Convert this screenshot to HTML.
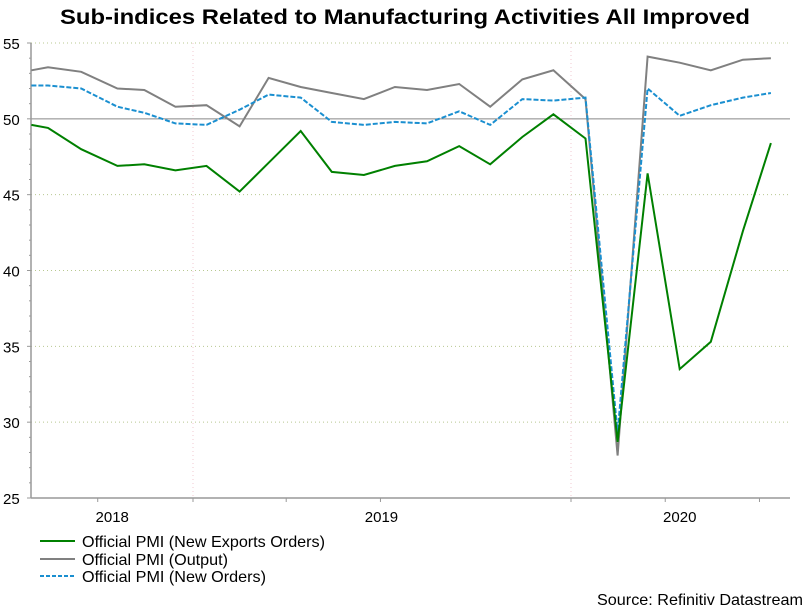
<!DOCTYPE html>
<html><head><meta charset="utf-8"><style>
body{margin:0;background:#fff;}
svg{display:block;font-family:"Liberation Sans",Arial,sans-serif;}
</style></head><body>
<svg id="chart" width="810" height="607">
<text x="405" y="24" text-anchor="middle" font-size="21" font-weight="bold" fill="#000" textLength="690" lengthAdjust="spacingAndGlyphs">Sub-indices Related to Manufacturing Activities All Improved</text>
<g id="grid"></g><g id="axes"></g><g id="series"></g>
<g>
<g><line x1="40" y1="541" x2="75" y2="541" stroke="#008000" stroke-width="2"/><text x="82" y="547" font-size="16" textLength="243" lengthAdjust="spacingAndGlyphs">Official PMI (New Exports Orders)</text></g>
<g><line x1="40" y1="559" x2="75" y2="559" stroke="#808080" stroke-width="2"/><text x="82" y="565" font-size="16" textLength="146" lengthAdjust="spacingAndGlyphs">Official PMI (Output)</text></g>
<g><line x1="40" y1="576" x2="75" y2="576" stroke="#1a8fd0" stroke-width="2" stroke-dasharray="4,2"/><text x="82" y="582" font-size="16" textLength="184" lengthAdjust="spacingAndGlyphs">Official PMI (New Orders)</text></g>
</g>
<text x="803" y="605" text-anchor="end" font-size="16" textLength="206" lengthAdjust="spacingAndGlyphs">Source: Refinitiv Datastream</text>
</svg>
<script>
const dates=["2018-07-29","2018-08-14","2018-09-15","2018-10-20","2018-11-15","2018-12-15","2019-01-14","2019-02-15","2019-03-15","2019-04-15","2019-05-15","2019-06-15","2019-07-15","2019-08-15","2019-09-15","2019-10-15","2019-11-15","2019-12-15","2020-01-15","2020-02-15","2020-03-15","2020-04-15","2020-05-15","2020-06-15","2020-07-12"];
const exportOrders=[49.6,49.4,48.0,46.9,47.0,46.6,46.9,45.2,47.1,49.2,46.5,46.3,46.9,47.2,48.2,47.0,48.8,50.3,48.7,28.7,46.4,33.5,35.3,42.6,48.4];
const output=[53.2,53.4,53.1,52.0,51.9,50.8,50.9,49.5,52.7,52.1,51.7,51.3,52.1,51.9,52.3,50.8,52.6,53.2,51.3,27.8,54.1,53.7,53.2,53.9,54.0];
const newOrders=[52.2,52.2,52.0,50.8,50.4,49.7,49.6,50.6,51.6,51.4,49.8,49.6,49.8,49.7,50.5,49.6,51.3,51.2,51.4,29.3,52.0,50.2,50.9,51.4,51.7];
const yTicks=[25,30,35,40,45,50,55];
const yearLabels=["2018","2019","2020"];
const yearLabelDates=["2018-10-15","2019-07-02","2020-04-15"];

const NS="http://www.w3.org/2000/svg";
const X0=31,X1=790,Y0=43,Y1=498;
const ref=Date.parse("2019-01-01");
function xs(d){return 193+(Date.parse(d)-ref)/86400000*378/365;}
function ys(v){return Y0+(55-v)*(Y1-Y0)/30;}
function mk(tag,attrs,parent){const e=document.createElementNS(NS,tag);for(const k in attrs)e.setAttribute(k,attrs[k]);parent.appendChild(e);return e;}
const grid=document.getElementById('grid'),axes=document.getElementById('axes'),ser=document.getElementById('series');

yTicks.forEach(v=>{
  if(v===25)return;
  const l=mk('line',{x1:X0,x2:X1,y1:ys(v),y2:ys(v),stroke:v===50?'#888':'#b8c890','stroke-width':1,'stroke-dasharray':v===50?'':'1,3'},grid);
  
  
});
["2019-01-01","2020-01-01"].forEach(d=>{
  const l=mk('line',{x1:xs(d),x2:xs(d),y1:Y0,y2:Y1,stroke:'#f0c8d0','stroke-dasharray':'1,3'},grid);
  
  
});
let a=mk('line',{x1:X0,x2:X0,y1:Y0,y2:Y1,stroke:'#999','stroke-width':1.5},axes);

a=mk('line',{x1:X0,x2:X1,y1:Y1,y2:Y1,stroke:'#999','stroke-width':1.5},axes);

for(let v=25;v<=55;v++){mk('line',{x1:X0-(v%5===0?4:2),x2:X0,y1:ys(v),y2:ys(v),stroke:'#999'},axes);}
yTicks.forEach(v=>{
  const t=mk('text',{x:3,y:ys(v)+6,'font-size':15,fill:'#000'},axes);t.textContent=v;
  
  
});
["2018-10-01","2019-01-01","2019-04-01","2019-07-01","2020-01-01","2020-04-01","2020-07-01"].forEach(d=>{mk('line',{x1:xs(d),x2:xs(d),y1:Y1,y2:Y1+4,stroke:'#999'},axes);});
yearLabels.forEach((s,i)=>{
  const t=mk('text',{x:xs(yearLabelDates[i]),y:522,'font-size':15,'text-anchor':'middle'},axes);t.textContent=s;
  
  
});
function line(vals,color,dash,name){
  const p=mk('polyline',{points:vals.map((v,i)=>xs(dates[i]).toFixed(1)+','+ys(v).toFixed(1)).join(' '),fill:'none',stroke:color,'stroke-width':2,'stroke-dasharray':dash,'stroke-linejoin':'miter'},ser);
  
  
}
line(output,'#808080','','series-output');
line(newOrders,'#1a8fd0','5,2','series-new-orders');
line(exportOrders,'#008000','','series-new-export-orders');
</script>
</body></html>
